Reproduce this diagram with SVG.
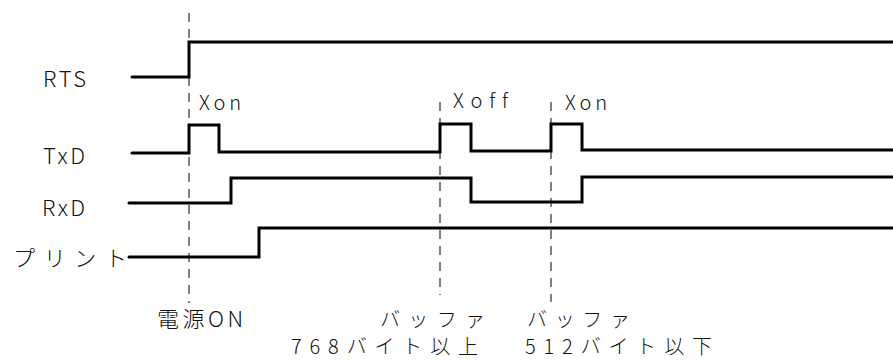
<svg xmlns="http://www.w3.org/2000/svg" width="893" height="360" viewBox="0 0 893 360">
<style>
.sig{fill:none;stroke:#000;stroke-width:3;stroke-linecap:round;stroke-linejoin:miter}
.dash{fill:none;stroke:#555;stroke-width:1.5;stroke-dasharray:9 7}
text{font-family:"Noto Sans CJK JP","Noto Sans",sans-serif;font-weight:300;fill:#111;font-size:22px;font-variant-ligatures:none;font-feature-settings:"liga" 0}
.s{font-size:20px}
.b{font-size:20px}
</style>
<rect width="893" height="360" fill="#fff"/>
<g id="markers">
<line class="dash" x1="189" y1="13" x2="189" y2="303"/>
<line class="dash" x1="440" y1="102" x2="440" y2="295"/>
<line class="dash" x1="551" y1="102" x2="551" y2="302"/>
</g>
<g id="connectors">
<path id="rts-wave" class="sig" d="M132,77 H189 V42 H893"/>
<path id="txd-wave" class="sig" d="M132,153 H189 V125 H219 V152 H440 V124 H471 V151 H551 V124 H582 V150 H893"/>
<path id="rxd-wave" class="sig" d="M129,203 H231 V178 H471 V202 H582 V177 H893"/>
<path id="print-wave" class="sig" d="M129,257 H259 V228 H893"/>
</g>
<g id="rts"><text x="43" y="87" textLength="43" lengthAdjust="spacing">RTS</text></g>
<g id="txd"><text x="43" y="164" textLength="42" lengthAdjust="spacing">TxD</text></g>
<g id="rxd"><text x="42" y="216" textLength="43" lengthAdjust="spacing">RxD</text></g>
<g id="print"><text x="13" y="266" textLength="114" lengthAdjust="spacing">プリント</text></g>
<g id="xon1"><text class="s" x="199" y="110" textLength="42" lengthAdjust="spacing">Xon</text></g>
<g id="xoff"><text class="s" x="453" y="108" textLength="55" lengthAdjust="spacing">Xoff</text></g>
<g id="xon2"><text class="s" x="565" y="110" textLength="42" lengthAdjust="spacing">Xon</text></g>
<g id="power-on"><text x="157" y="327" textLength="86" lengthAdjust="spacing">電源ON</text></g>
<g id="buf-high">
<text class="b" x="380" y="327" textLength="105" lengthAdjust="spacing">バッファ</text>
<text class="b" x="291" y="354" textLength="187" lengthAdjust="spacing">768バイト以上</text>
</g>
<g id="buf-low">
<text class="b" x="527" y="327" textLength="103" lengthAdjust="spacing">バッファ</text>
<text class="b" x="525" y="354" textLength="187" lengthAdjust="spacing">512バイト以下</text>
</g>
</svg>
